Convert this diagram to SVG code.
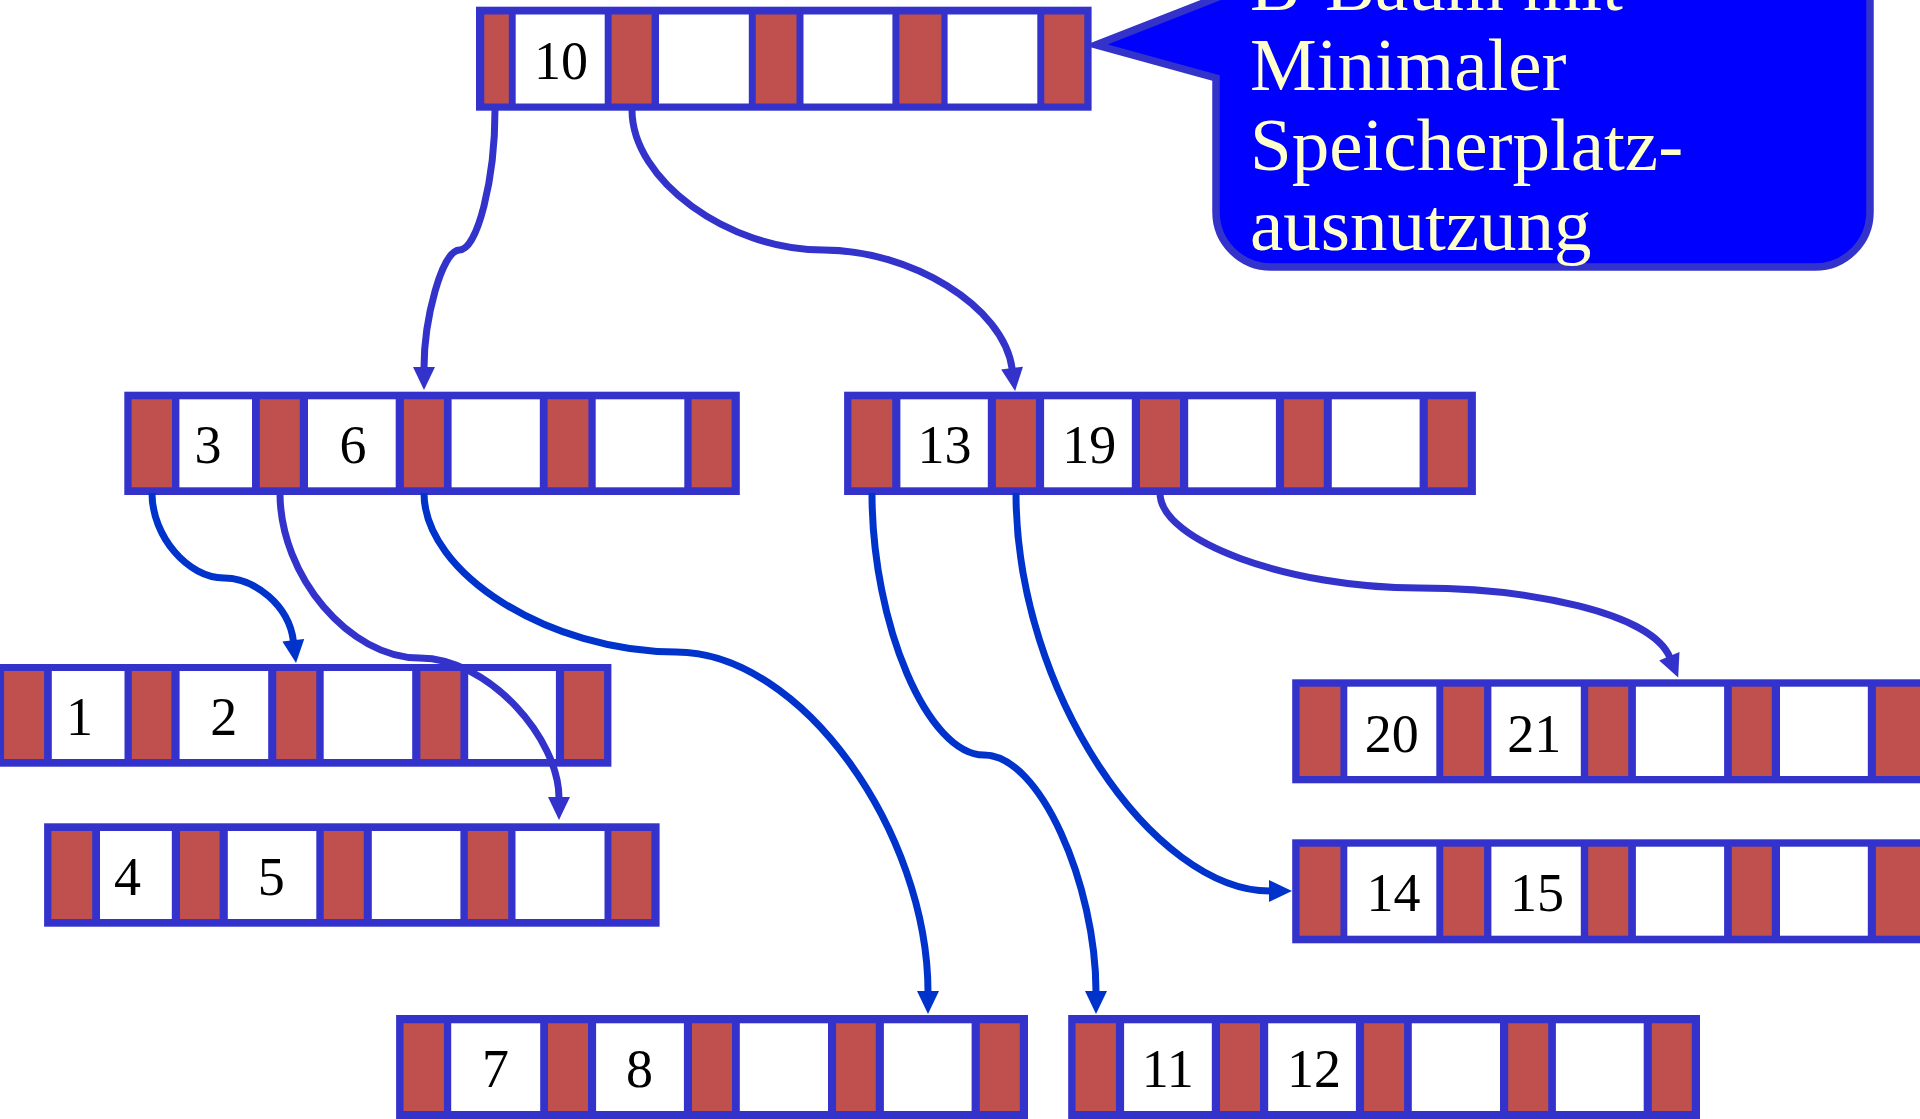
<svg xmlns="http://www.w3.org/2000/svg" width="1920" height="1119" viewBox="0 0 1920 1119">
<style>
.bd{fill:#3333CC}
.r{fill:#C0504D}
.w{fill:#FFFFFF}
.k{font-family:"Liberation Serif","Times New Roman",serif;font-size:54px;fill:#000;text-anchor:middle}
.c{fill:none;stroke-width:7;stroke-linecap:butt}
.c1{stroke:#3333CC}
.c2{stroke:#0033CC}
.ct{font-family:"Liberation Serif","Times New Roman",serif;font-size:75px;fill:#FFFFCC}
</style>
<defs>
<marker id="a1" markerUnits="userSpaceOnUse" markerWidth="26" markerHeight="24" viewBox="-2 -12 26 24" refX="0" refY="0" orient="auto"><path d="M-1,-11 L22,0 L-1,11 Z" fill="#3333CC"/></marker>
<marker id="a2" markerUnits="userSpaceOnUse" markerWidth="26" markerHeight="24" viewBox="-2 -12 26 24" refX="0" refY="0" orient="auto"><path d="M-1,-11 L22,0 L-1,11 Z" fill="#0033CC"/></marker>
</defs>
<rect width="1920" height="1119" fill="#FFFFFF"/>

<g id="n10">
<rect class="bd" x="476" y="6.7" width="615.6" height="104"/>
<rect class="r" x="484.3" y="14.5" width="24.5" height="89"/>
<rect class="w" x="515.7" y="14.5" width="89" height="89"/>
<rect class="r" x="611.6" y="14.5" width="40" height="89"/>
<rect class="w" x="659" y="14.5" width="89.8" height="89"/>
<rect class="r" x="755.7" y="14.5" width="40.8" height="89"/>
<rect class="w" x="803.5" y="14.5" width="88.9" height="89"/>
<rect class="r" x="899.4" y="14.5" width="42" height="89"/>
<rect class="w" x="947.6" y="14.5" width="89.7" height="89"/>
<rect class="r" x="1044.3" y="14.5" width="40" height="89"/>
<text class="k" x="561" y="79.3">10</text>
</g>

<g id="n3_6">
<rect class="bd" x="124.3" y="391.7" width="615.5" height="103.3"/>
<rect class="r" x="131.6" y="399.3" width="40.4" height="88"/>
<rect class="w" x="179.4" y="399.3" width="72.6" height="88"/>
<rect class="r" x="259.8" y="399.3" width="40" height="88"/>
<rect class="w" x="308" y="399.3" width="87.7" height="88"/>
<rect class="r" x="403.9" y="399.3" width="40" height="88"/>
<rect class="w" x="451.6" y="399.3" width="88.2" height="88"/>
<rect class="r" x="547.6" y="399.3" width="40.8" height="88"/>
<rect class="w" x="595.7" y="399.3" width="88.6" height="88"/>
<rect class="r" x="691.6" y="399.3" width="40" height="88"/>
<text class="k" x="208" y="463.3">3</text>
<text class="k" x="353" y="463.3">6</text>
</g>

<g id="n13_19">
<rect class="bd" x="844.1" y="391.7" width="631.8" height="103.3"/>
<rect class="r" x="851.4" y="399.3" width="40.8" height="88"/>
<rect class="w" x="900.4" y="399.3" width="87.4" height="88"/>
<rect class="r" x="995.9" y="399.3" width="40" height="88"/>
<rect class="w" x="1044.1" y="399.3" width="87.7" height="88"/>
<rect class="r" x="1140" y="399.3" width="40" height="88"/>
<rect class="w" x="1188.2" y="399.3" width="87.7" height="88"/>
<rect class="r" x="1284.1" y="399.3" width="39.6" height="88"/>
<rect class="w" x="1331.8" y="399.3" width="87.8" height="88"/>
<rect class="r" x="1427.8" y="399.3" width="40" height="88"/>
<text class="k" x="944.5" y="463.3">13</text>
<text class="k" x="1089.2" y="463.3">19</text>
</g>

<g id="n1_2">
<rect class="bd" x="-3" y="664" width="614.4" height="102.7"/>
<rect class="r" x="4.1" y="671" width="40" height="88"/>
<rect class="w" x="51.8" y="671" width="72.7" height="88"/>
<rect class="r" x="131.8" y="671" width="39.6" height="88"/>
<rect class="w" x="179.6" y="671" width="88.6" height="88"/>
<rect class="r" x="276.3" y="671" width="40" height="88"/>
<rect class="w" x="323.7" y="671" width="88.5" height="88"/>
<rect class="r" x="420.4" y="671" width="40" height="88"/>
<rect class="w" x="468.2" y="671" width="87.7" height="88"/>
<rect class="r" x="564.1" y="671" width="40" height="88"/>
<text class="k" x="79.6" y="735">1</text>
<text class="k" x="223.7" y="735">2</text>
</g>

<g id="n4_5">
<rect class="bd" x="44.1" y="823.3" width="615.5" height="103.4"/>
<rect class="r" x="51.4" y="831" width="40.8" height="88"/>
<rect class="w" x="100" y="831" width="71.8" height="88"/>
<rect class="r" x="180" y="831" width="39.6" height="88"/>
<rect class="w" x="227.8" y="831" width="88.5" height="88"/>
<rect class="r" x="323.7" y="831" width="40" height="88"/>
<rect class="w" x="371.8" y="831" width="88.6" height="88"/>
<rect class="r" x="467.8" y="831" width="40.4" height="88"/>
<rect class="w" x="515.5" y="831" width="89" height="88"/>
<rect class="r" x="611.4" y="831" width="40" height="88"/>
<text class="k" x="127.4" y="895">4</text>
<text class="k" x="271.2" y="895">5</text>
</g>

<g id="n20_21">
<rect class="bd" x="1292.2" y="679.3" width="640" height="104"/>
<rect class="r" x="1299.6" y="686.7" width="40.8" height="89.3"/>
<rect class="w" x="1347.3" y="686.7" width="89" height="89.3"/>
<rect class="r" x="1443.3" y="686.7" width="40.8" height="89.3"/>
<rect class="w" x="1491.4" y="686.7" width="89.4" height="89.3"/>
<rect class="r" x="1588.2" y="686.7" width="40" height="89.3"/>
<rect class="w" x="1635.9" y="686.7" width="88.2" height="89.3"/>
<rect class="r" x="1731.8" y="686.7" width="40" height="89.3"/>
<rect class="w" x="1780" y="686.7" width="87.8" height="89.3"/>
<rect class="r" x="1875.9" y="686.7" width="50" height="89.3"/>
<text class="k" x="1391.8" y="751.7">20</text>
<text class="k" x="1534.3" y="751.7">21</text>
</g>

<g id="n14_15">
<rect class="bd" x="1292.2" y="839.3" width="640" height="104"/>
<rect class="r" x="1299.6" y="846.7" width="40.8" height="89"/>
<rect class="w" x="1347.3" y="846.7" width="89" height="89"/>
<rect class="r" x="1443.3" y="846.7" width="40.8" height="89"/>
<rect class="w" x="1491.4" y="846.7" width="89.4" height="89"/>
<rect class="r" x="1588.2" y="846.7" width="40" height="89"/>
<rect class="w" x="1635.9" y="846.7" width="88.2" height="89"/>
<rect class="r" x="1731.8" y="846.7" width="40" height="89"/>
<rect class="w" x="1780" y="846.7" width="87.8" height="89"/>
<rect class="r" x="1875.9" y="846.7" width="50" height="89"/>
<text class="k" x="1393.5" y="910.7">14</text>
<text class="k" x="1537" y="910.7">15</text>
</g>

<g id="n7_8">
<rect class="bd" x="396.1" y="1015" width="631.9" height="104"/>
<rect class="r" x="403.5" y="1023.3" width="40.4" height="87.7"/>
<rect class="w" x="451.2" y="1023.3" width="89" height="87.7"/>
<rect class="r" x="548" y="1023.3" width="40" height="87.7"/>
<rect class="w" x="596.1" y="1023.3" width="87.8" height="87.7"/>
<rect class="r" x="692" y="1023.3" width="40" height="87.7"/>
<rect class="w" x="739.8" y="1023.3" width="88.2" height="87.7"/>
<rect class="r" x="836.1" y="1023.3" width="39.6" height="87.7"/>
<rect class="w" x="883.9" y="1023.3" width="87.7" height="87.7"/>
<rect class="r" x="979.8" y="1023.3" width="40" height="87.7"/>
<text class="k" x="495.4" y="1086.7">7</text>
<text class="k" x="639.4" y="1086.7">8</text>
</g>

<g id="n11_12">
<rect class="bd" x="1068.2" y="1015" width="631.8" height="104"/>
<rect class="r" x="1075.5" y="1023.3" width="40.4" height="87.7"/>
<rect class="w" x="1124.1" y="1023.3" width="87.7" height="87.7"/>
<rect class="r" x="1220" y="1023.3" width="40" height="87.7"/>
<rect class="w" x="1268.2" y="1023.3" width="87.7" height="87.7"/>
<rect class="r" x="1364.1" y="1023.3" width="40" height="87.7"/>
<rect class="w" x="1411.8" y="1023.3" width="88.2" height="87.7"/>
<rect class="r" x="1508.2" y="1023.3" width="40" height="87.7"/>
<rect class="w" x="1555.9" y="1023.3" width="87.8" height="87.7"/>
<rect class="r" x="1651.8" y="1023.3" width="40" height="87.7"/>
<text class="k" x="1167.8" y="1086.7">11</text>
<text class="k" x="1313.9" y="1086.7">12</text>
</g>

<g id="callout">
<path d="M1216,-60 L1216,-2 L1096,45 L1216,78 L1216,212 A55,55 0 0 0 1271,267 L1815,267 A55,55 0 0 0 1870,212 L1870,-60 Z" fill="#0000FF" stroke="#3333CC" stroke-width="7.5" stroke-linejoin="miter"/>
<text class="ct" x="1250" y="10">B-Baum mit</text>
<text class="ct" x="1250" y="90">Minimaler</text>
<text class="ct" x="1250" y="170">Speicherplatz-</text>
<text class="ct" x="1250" y="250">ausnutzung</text>
</g>

<g id="connectors">
<path class="c c1" marker-end="url(#a1)" d="M495,110 C495,180 477.25,250 459.5,250 C441.75,250 424,320 424,368"/>
<path class="c c1" marker-end="url(#a1)" d="M632,110 C632,180 727.75,250 823.5,250 C909.7,250 1003.7,305.7 1012.2,369.1"/>
<path class="c c2" marker-end="url(#a2)" d="M152,493 C152,536.5 188,578 224,578 C254.6,578 289.1,605.5 293.4,641.2"/>
<path class="c c1" marker-end="url(#a1)" d="M280,493 C280,576.5 349.75,658 419.5,658 C489.25,658 559,739 559,798"/>
<path class="c c2" marker-end="url(#a2)" d="M424,493 C424,573.5 550,652 676,652 C802,652 928,833 928,992"/>
<path class="c c2" marker-end="url(#a2)" d="M872,493 C872,625 928,755 984,755 C1040,755 1096,884.5 1096,992"/>
<path class="c c2" marker-end="url(#a2)" d="M1016,493 C1016,693 1154,891 1270,891"/>
<path class="c c1" marker-end="url(#a1)" d="M1160,493 C1160,541.5 1289.5,588 1419,588 C1529.1,588 1651.2,612.8 1669.7,657.1"/>
</g>
</svg>
